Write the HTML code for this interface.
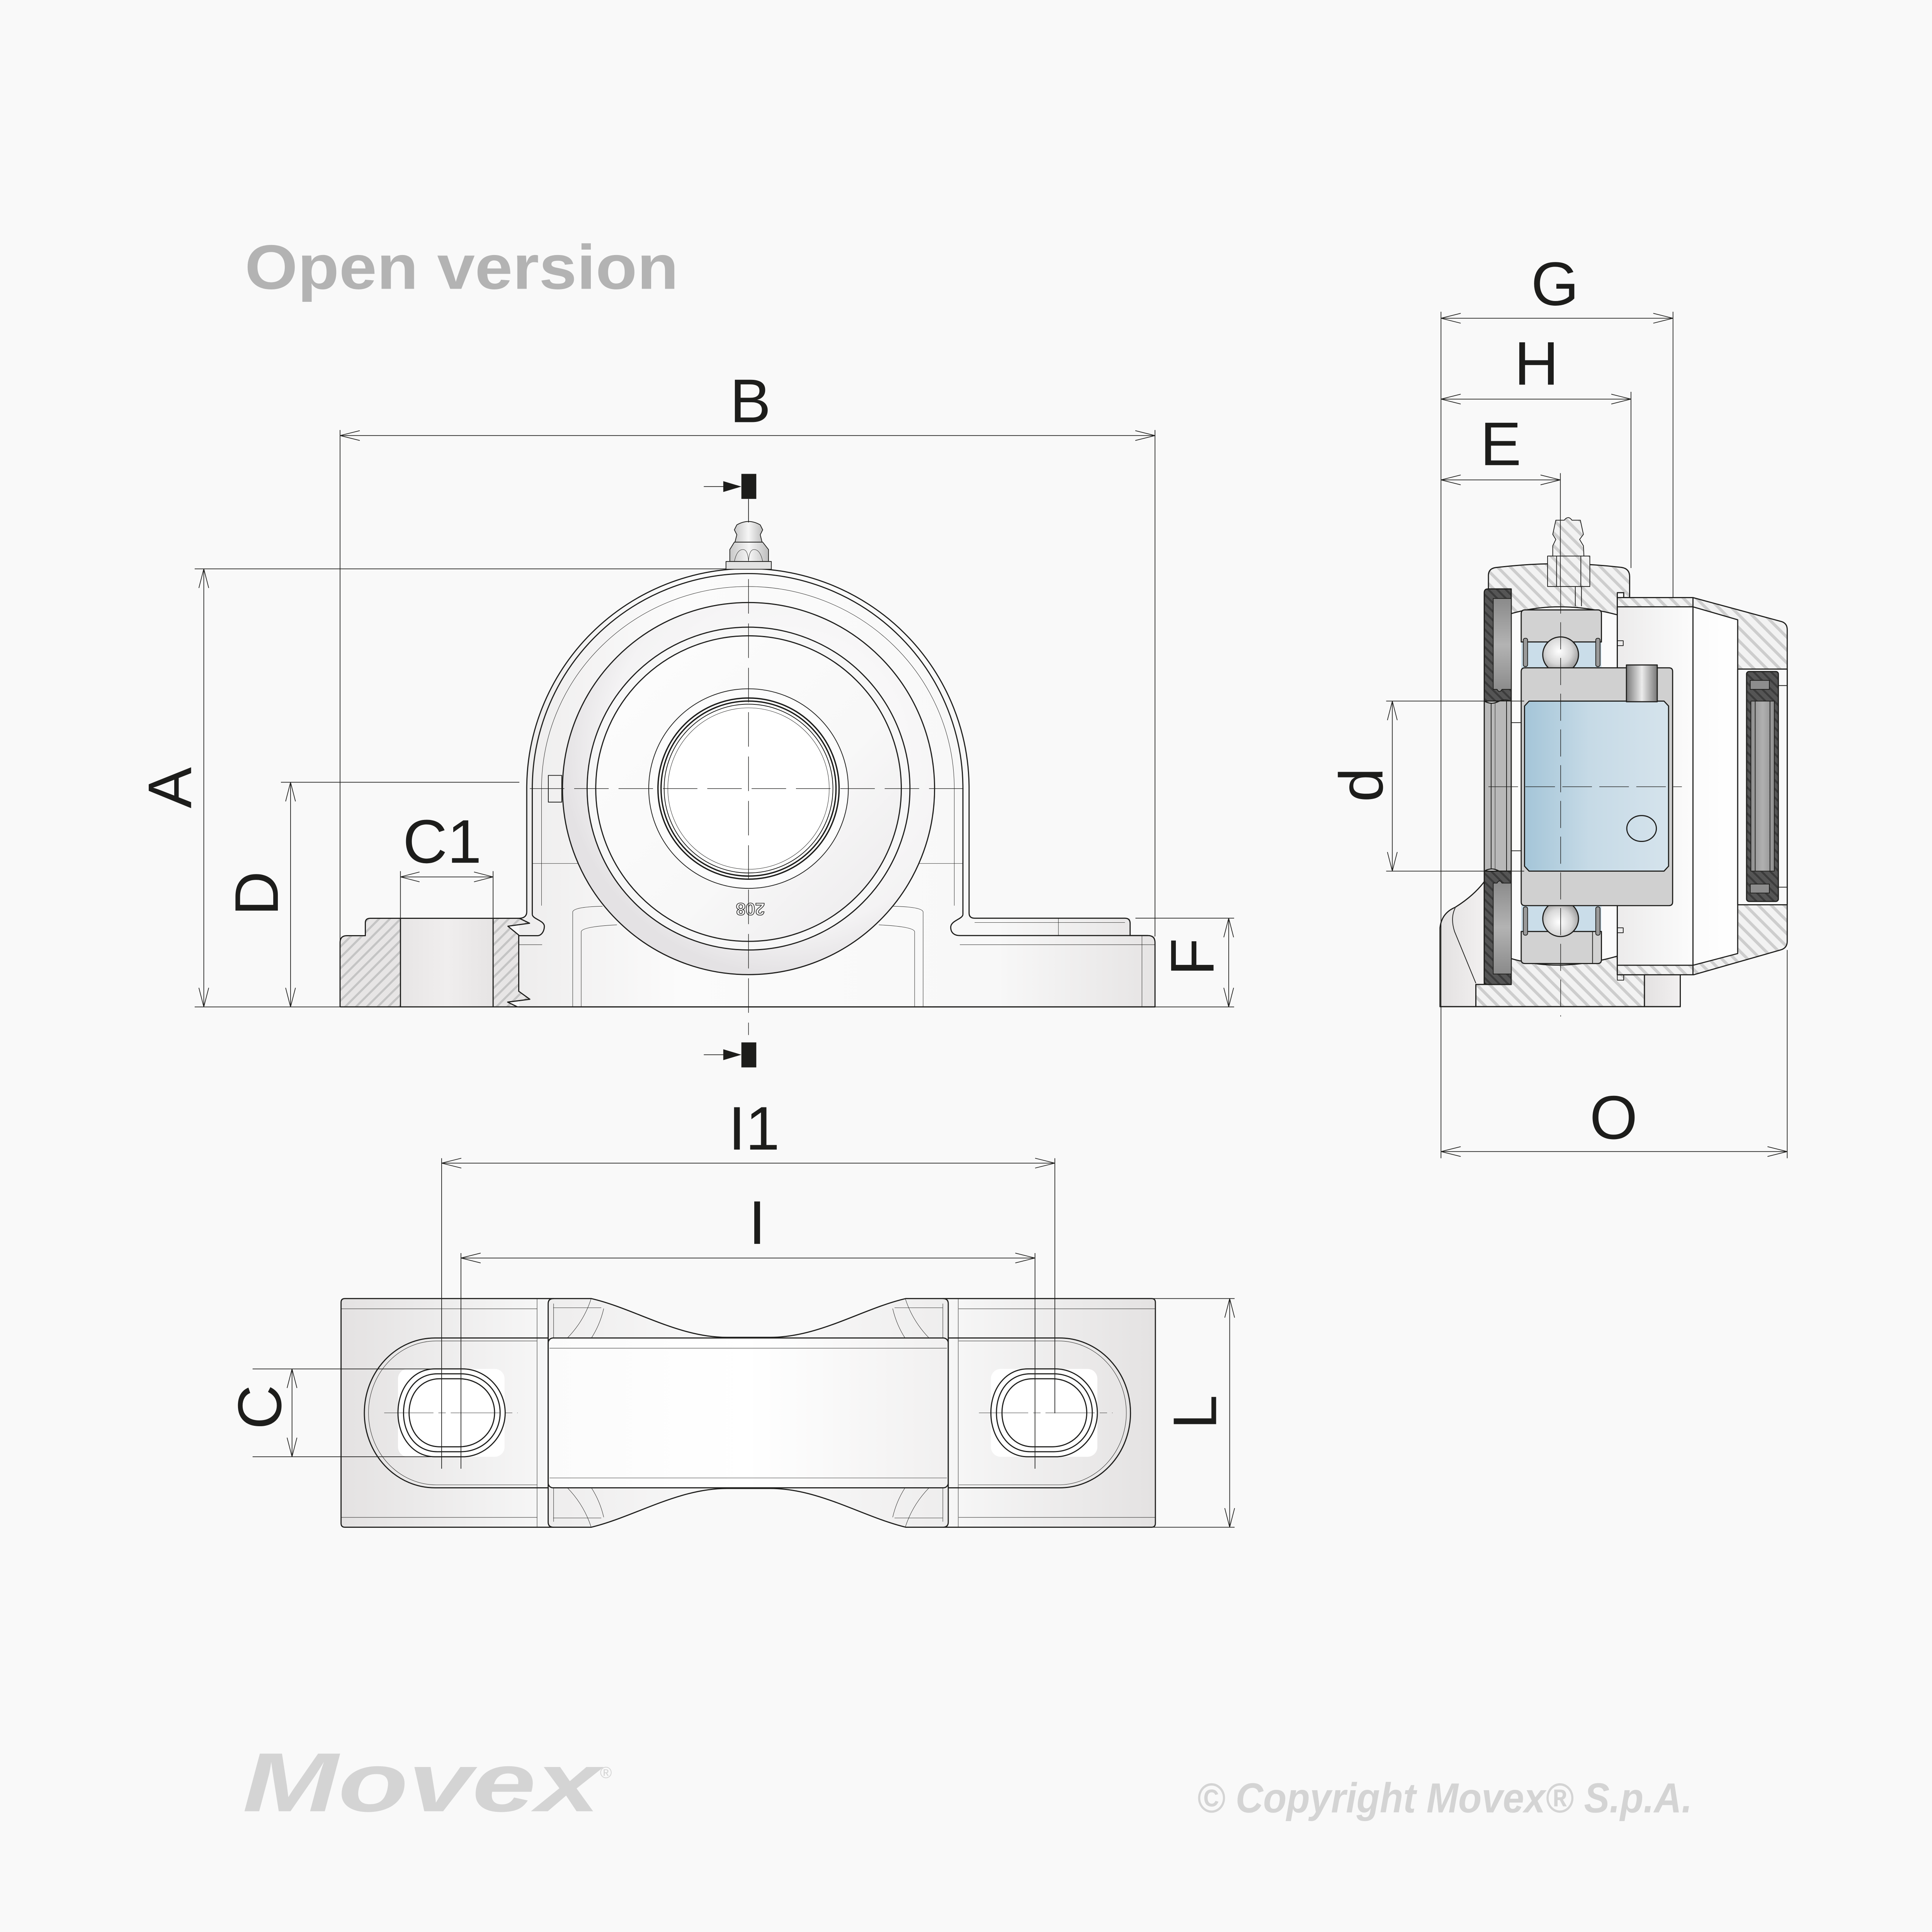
<!DOCTYPE html>
<html><head><meta charset="utf-8"><style>
html,body{margin:0;padding:0;background:#f9f9f9;width:100%;height:100%;overflow:hidden;}
svg{display:block;width:100vw;height:100vh;}
text{font-family:"Liberation Sans",Arial,sans-serif;}
.k{stroke:#1d1d1b;stroke-width:0.9;stroke-linejoin:round;}
.m{stroke-width:0.6;}
.t{stroke:#1d1d1b;stroke-width:0.3;}
.d{stroke:#1d1d1b;stroke-width:0.55;}
.c{stroke:#1d1d1b;stroke-width:0.45;stroke-dasharray:28 8;}
.k:not([fill]),.t:not([fill]),.d:not([fill]),.c:not([fill]){fill:none;}
.lbl{font-size:50px;fill:#1d1d1b;}
</style></head><body>
<svg xmlns="http://www.w3.org/2000/svg" viewBox="0 0 1568 1568" preserveAspectRatio="none">
<defs>
 <pattern id="hF" patternUnits="userSpaceOnUse" width="6.2" height="6.2" patternTransform="rotate(45)">
  <rect width="6.2" height="6.2" fill="#e7e5e5"/><rect width="1.7" height="6.2" fill="#c4c4c4"/>
 </pattern>
 <pattern id="hS" patternUnits="userSpaceOnUse" width="7.4" height="7.4" patternTransform="rotate(-45)">
  <rect width="7.4" height="7.4" fill="#f2f2f2"/><rect width="2.4" height="7.4" fill="#cdcdcd"/>
 </pattern>
 <pattern id="hD" patternUnits="userSpaceOnUse" width="5" height="5" patternTransform="rotate(-45)">
  <rect width="5" height="5" fill="#555555"/><rect width="1.6" height="5" fill="#3b3b3b"/>
 </pattern>
 <linearGradient id="gBody" x1="0" y1="0" x2="1" y2="0">
  <stop offset="0" stop-color="#eeeded"/><stop offset="0.25" stop-color="#fbfbfb"/><stop offset="0.75" stop-color="#f8f8f8"/><stop offset="1" stop-color="#e6e4e4"/>
 </linearGradient>
 <radialGradient id="gRing" cx="0.6" cy="0.4" r="0.6">
  <stop offset="0" stop-color="#ffffff"/><stop offset="0.8" stop-color="#f4f3f4"/><stop offset="1" stop-color="#e4e2e4"/>
 </radialGradient>
 <linearGradient id="gRing2" x1="0" y1="0" x2="1" y2="1">
  <stop offset="0" stop-color="#fdfdfd"/><stop offset="0.6" stop-color="#f8f8f8"/><stop offset="1" stop-color="#ebe9eb"/>
 </linearGradient>
 <linearGradient id="gHole" x1="0" y1="0" x2="1" y2="0">
  <stop offset="0" stop-color="#e7e5e5"/><stop offset="0.5" stop-color="#f0eeee"/><stop offset="1" stop-color="#e6e4e4"/>
 </linearGradient>
 <linearGradient id="gBlue" x1="0" y1="0" x2="1" y2="0">
  <stop offset="0" stop-color="#a4c5d8"/><stop offset="0.45" stop-color="#c6dae6"/><stop offset="1" stop-color="#d5e3ec"/>
 </linearGradient>
 <radialGradient id="gBall" cx="0.45" cy="0.4" r="0.6">
  <stop offset="0" stop-color="#ffffff"/><stop offset="0.6" stop-color="#d8d8d8"/><stop offset="1" stop-color="#9a9a9a"/>
 </radialGradient>
 <linearGradient id="gScrew" x1="0" y1="0" x2="1" y2="0">
  <stop offset="0" stop-color="#7a7a7a"/><stop offset="0.5" stop-color="#ececec"/><stop offset="1" stop-color="#777777"/>
 </linearGradient>
 <linearGradient id="gSealIn" x1="0" y1="0" x2="0" y2="1">
  <stop offset="0" stop-color="#8a8a8a"/><stop offset="0.5" stop-color="#b3b3b3"/><stop offset="1" stop-color="#8a8a8a"/>
 </linearGradient>
 <linearGradient id="gSeal2" x1="0" y1="0" x2="1" y2="0">
  <stop offset="0" stop-color="#8f8f8f"/><stop offset="0.5" stop-color="#b0b0b0"/><stop offset="1" stop-color="#8f8f8f"/>
 </linearGradient>
 <linearGradient id="gFoot" x1="0" y1="0" x2="1" y2="0">
  <stop offset="0" stop-color="#e3e1e1"/><stop offset="1" stop-color="#f2f0f0"/>
 </linearGradient>
 <linearGradient id="gCover" x1="0" y1="0" x2="1" y2="0">
  <stop offset="0" stop-color="#ecebeb"/><stop offset="0.6" stop-color="#fbfbfb"/><stop offset="1" stop-color="#ffffff"/>
 </linearGradient>
 <linearGradient id="gBlkL" x1="0" y1="0" x2="1" y2="0">
  <stop offset="0" stop-color="#e4e2e2"/><stop offset="1" stop-color="#f7f7f7"/>
 </linearGradient>
 <linearGradient id="gBlkR" x1="0" y1="0" x2="1" y2="0">
  <stop offset="0" stop-color="#f7f7f7"/><stop offset="1" stop-color="#e4e2e2"/>
 </linearGradient>
 <linearGradient id="gCtr" x1="0" y1="0" x2="1" y2="0">
  <stop offset="0" stop-color="#eeeded"/><stop offset="0.5" stop-color="#fafafa"/><stop offset="1" stop-color="#eeeded"/>
 </linearGradient>
 <linearGradient id="gWh" x1="0" y1="0" x2="1" y2="0">
  <stop offset="0" stop-color="#fbfbfb"/><stop offset="0.5" stop-color="#ffffff"/><stop offset="1" stop-color="#f1f0f0"/>
 </linearGradient>
 <linearGradient id="gNip" x1="0" y1="0" x2="1" y2="0">
  <stop offset="0" stop-color="#c8c8c8"/><stop offset="0.5" stop-color="#f6f6f6"/><stop offset="1" stop-color="#bdbdbd"/>
 </linearGradient>
</defs>

<rect x="0" y="0" width="1568" height="1568" fill="#f9f9f9"/>

<!-- ============ TITLE / LOGOS ============ -->
<text x="198.7" y="234.4" font-size="51" font-weight="bold" fill="#b3b3b3" textLength="352" lengthAdjust="spacingAndGlyphs">Open version</text>
<text x="196.8" y="1470" font-size="68" font-weight="bold" font-style="italic" fill="#d4d4d4" textLength="290" lengthAdjust="spacingAndGlyphs">Movex</text>
<text x="487" y="1443" font-size="13" fill="#d4d4d4">®</text>
<text x="971.4" y="1471" font-size="34" font-weight="bold" font-style="italic" fill="#d4d4d4" textLength="402" lengthAdjust="spacingAndGlyphs">© Copyright Movex® S.p.A.</text>

<!-- ============ FRONT VIEW ============ -->
<path d="M421.5,745 H427.5 V640 A179.5 178.5 0 0 1 786.5,640 V745.2 H917.2 V759.3 H937.4 V817.2 H421.5 Z" fill="url(#gBody)"/>
<path class="t" d="M439.5,735 V640 A167.5 164 0 0 1 774.5,640 V735"/>
<path class="t" d="M432,700.8 H470 M744,700.8 H781.5"/>
<path class="t" d="M464.8,817 V740 Q466,736 489,735.5 M471.7,817 V756 Q473,752 500.7,750.6 M749.2,817 V740 Q748,736 725,735.5 M742.3,817 V756 Q741,752 713.3,750.6"/>
<circle cx="607.5" cy="640" r="151" fill="url(#gRing)" class="k"/>
<circle cx="607.5" cy="640" r="131" fill="#f7f7f7" class="k"/>
<circle cx="607.5" cy="640" r="124" fill="url(#gRing2)" class="k"/>
<circle cx="607.5" cy="640" r="81" fill="#fcfcfc" class="k m"/>
<circle cx="607.5" cy="640" r="73.5" fill="#ffffff" class="k" style="stroke-width:1.1"/>
<circle cx="607.5" cy="640" r="71" class="k" style="stroke-width:1.1"/>
<circle cx="607.5" cy="640" r="68.5" class="k m"/>
<circle cx="607.5" cy="640" r="65.5" fill="#ffffff" class="t"/>
<rect x="445" y="629.3" width="10.9" height="21.7" class="k m"/>
<text transform="translate(609,733) rotate(180)" font-size="14" font-weight="bold" text-anchor="middle" fill="none" stroke="#1d1d1b" stroke-width="0.5">208</text>
<path class="k" d="M421.5,745.3 Q427.5,745 427.5,740 V640 A179.5 178.5 0 0 1 786.5,640 V741 Q786.5,745.2 791,745.2 H913 Q917.2,745.2 917.2,749.5 V759.3 H931.6 Q937.4,759.3 937.4,765 V817.2 H421"/>
<path class="k" d="M432,742 V640 A174.75 174.5 0 0 1 781.5,640 V742"/>
<path class="k" d="M432,742 C432,746 442,747 441.8,752 C441.6,756.5 439,759.4 436.2,759.4 H421"/>
<path class="k" d="M781.5,742 C781.5,746 771.6,747 771.6,752.6 C771.6,757 774.5,759.3 779,759.3 H931.6"/>
<path class="t" d="M791,748.7 H913 M859,745.2 V759.3 M779,766.7 H937.4 M926.8,759.3 V817.2 M421,766.7 H440"/>
<path d="M276,817.2 V765 Q276,759.4 281.5,759.4 H296.5 V749 Q296.5,745.3 300.5,745.3 H325 V817.2 Z" fill="url(#hF)"/>
<rect x="325" y="745.3" width="75.2" height="71.9" fill="url(#gHole)"/>
<path d="M400.2,745.3 H421.5 L429.8,749.3 L412.2,751.7 L421,758.9 V804.5 L430,811 L412,813.3 L420,817.2 H400.2 Z" fill="url(#hF)"/>
<path class="k" d="M276,817.2 V765 Q276,759.4 281.5,759.4 H296.5 V749 Q296.5,745.3 300.5,745.3 H421.5 L429.8,749.3 L412.2,751.7 L421,758.9 V804.5 L430,811 L412,813.3 L420,817.2"/>
<path class="k" d="M325,745.3 V817.2 M400.2,745.3 V817.2 M276,817.2 H937.4"/>
<path class="c" d="M607.5,470 V840"/>
<path class="c" d="M430,640 H786"/>
<path class="k m" d="M596.5,440 L598,434 L596,430 L598,426 Q607.5,420.5 617,426 L619,430 L617,434 L618.5,440 Z" fill="url(#gNip)"/>
<path class="k m" d="M592.3,455.7 V446 L596,440 H619 L623.7,446 V455.7 Z" fill="url(#gNip)"/>
<path class="t" d="M596,455.7 Q598,446 603,446 Q607,446 607.5,455.7 M607.5,455.7 Q608,446 612,446 Q617,446 619,455.7"/>
<rect x="589.2" y="455.7" width="36.8" height="6.3" fill="#e2e2e2" class="k m"/>
<path class="d" d="M607.5,405 V424"/>
<path class="d" d="M571.2,394.9 H588"/>
<polygon points="587,390.5 601.7,394.9 587,399.3" fill="#1d1d1b"/>
<rect x="601.7" y="384.6" width="12.1" height="20.3" fill="#1d1d1b"/>
<path class="d" d="M571.2,856 H588"/>
<polygon points="587,851.6 601.7,856 587,860.4" fill="#1d1d1b"/>
<rect x="601.7" y="846" width="12.1" height="20.3" fill="#1d1d1b"/>

<path class="d" d="M158,461.7 H589 M158,817.2 H276 M228,634.9 H421.5 M276,349 V817.2 M937.4,349 V760 M325,707 V745.3 M400.2,707 V745.3 M921.5,745.2 H1001.6 M937.4,817.2 H1001.6"/>
<path class="d" d="M276,353.5 H937.4 M292,349.5 L276,353.5 L292,357.5 M921.4,349.5 L937.4,353.5 L921.4,357.5"/>
<path class="d" d="M165.4,461.7 V817.2 M161.4,477.2 L165.4,461.7 L169.4,477.2 M161.4,801.7 L165.4,817.2 L169.4,801.7"/>
<path class="d" d="M235.8,634.9 V817.2 M231.8,650.4 L235.8,634.9 L239.8,650.4 M231.8,801.7 L235.8,817.2 L239.8,801.7"/>
<path class="d" d="M325,711.7 H400.2 M340.5,707.7 L325,711.7 L340.5,715.7 M384.7,707.7 L400.2,711.7 L384.7,715.7"/>
<path class="d" d="M997.2,745.2 V817.2 M993.2,760.7 L997.2,745.2 L1001.2,760.7 M993.2,801.7 L997.2,817.2 L1001.2,801.7"/>
<text class="lbl" x="609" y="342.6" text-anchor="middle">B</text>
<text class="lbl" x="358.9" y="700.2" text-anchor="middle">C1</text>
<text class="lbl" transform="translate(155.1,639.3) rotate(-90)" text-anchor="middle">A</text>
<text class="lbl" transform="translate(225.5,725.1) rotate(-90)" text-anchor="middle">D</text>
<text class="lbl" transform="translate(984.9,776.6) rotate(-90)" text-anchor="middle">F</text>

<!-- ============ BOTTOM VIEW ============ -->
<path d="M280,1053.9 H444.9 V1239.5 H280 Q276.8,1239.5 276.8,1236.3 V1057 Q276.8,1053.9 280,1053.9 Z" fill="url(#gBlkL)"/>
<path d="M769.6,1053.9 H934.5 Q937.7,1053.9 937.7,1057 V1236.3 Q937.7,1239.5 934.5,1239.5 H769.6 Z" fill="url(#gBlkR)"/>
<path d="M444.9,1053.9 H479.8 C515,1062 550,1085.4 590,1085.4 H625 C665,1085.4 700,1062 735.2,1053.9 H769.6 V1239.5 H735.2 C700,1231 665,1208 625,1208 H590 C550,1208 515,1231 479.8,1239.5 H444.9 Z" fill="url(#gCtr)"/>
<path class="t" d="M277,1062.2 H436 M277,1231.5 H436 M778,1062.2 H937.7 M778,1231.5 H937.7 M435.9,1053.9 V1239.5 M777.7,1053.9 V1239.5 M449.3,1058 V1085.9 M449.3,1207.5 V1235 M765.2,1058 V1085.9 M765.2,1207.5 V1235 M449,1061.4 H488 M449,1232 H488 M726,1061.4 H765 M726,1232 H765"/>
<path class="t" d="M479.8,1053.9 Q474,1072 460.5,1085.9 M490,1062 Q487,1075 480,1085.9 M734.7,1053.9 Q740.5,1072 754,1085.9 M724.5,1062 Q727.5,1075 734.5,1085.9"/>
<path class="t" d="M479.8,1239.5 Q474,1221.4 460.5,1207.5 M490,1231.4 Q487,1218.4 480,1207.5 M734.7,1239.5 Q740.5,1221.4 754,1207.5 M724.5,1231.4 Q727.5,1218.4 734.5,1207.5"/>
<rect x="444.9" y="1085.9" width="324.7" height="121.6" rx="4" fill="url(#gWh)" class="k"/>
<path class="t" d="M446,1094.2 H768.5 M446,1199.5 H768.5"/>
<path class="k" d="M280,1053.9 H479.8 C515,1062 550,1085.4 590,1085.4 H625 C665,1085.4 700,1062 735.2,1053.9 H934.5 Q937.7,1053.9 937.7,1057 V1236.3 Q937.7,1239.5 934.5,1239.5 H735.2 C700,1231 665,1208 625,1208 H590 C550,1208 515,1231 479.8,1239.5 H280 Q276.8,1239.5 276.8,1236.3 V1057 Q276.8,1053.9 280,1053.9 Z"/>
<path class="k" d="M449.3,1053.9 Q444.9,1053.9 444.9,1058 V1235.4 Q444.9,1239.5 449.3,1239.5 M765.2,1053.9 Q769.6,1053.9 769.6,1058 V1235.4 Q769.6,1239.5 765.2,1239.5"/>
<path class="k" d="M444.9,1085.9 H353 A57.3 60.8 0 0 0 353,1207.5 H444.9"/>
<path class="t" d="M436,1088.3 H354 A55 58.4 0 0 0 354,1205.1 H436"/>
<path class="k" d="M769.6,1085.9 H860 A57.5 60.8 0 0 1 860,1207.5 H769.6"/>
<path class="t" d="M778,1088.3 H859 A55.2 58.4 0 0 1 859,1205.1 H778"/>
<rect x="323" y="1111" width="86.5" height="71.3" rx="8" fill="#ffffff"/>
<rect x="804.2" y="1111" width="86.4" height="71.3" rx="8" fill="#ffffff"/>
<path class="k" d="M353,1111 H375.4 C394,1111 410,1127 410,1146.7 C410,1166 394,1182.3 375.4,1182.3 H353 C335,1182.3 323,1166 323,1146.7 C323,1127 335,1111 353,1111 Z"/>
<path class="k" d="M355,1115 H374 C392,1115 405.9,1129 405.9,1146.6 C405.9,1164 392,1178.2 374,1178.2 H355 C338,1178.2 327.5,1164 327.5,1146.6 C327.5,1129 338,1115 355,1115 Z"/>
<path class="k" d="M357,1119 H372.5 C389,1119 401.4,1131 401.4,1146.6 C401.4,1162 389,1174.2 372.5,1174.2 H357 C342,1174.2 332,1162 332,1146.6 C332,1131 342,1119 357,1119 Z"/>
<path class="k" d="M834.2,1111 H856.6 C875.2,1111 890.6,1127 890.6,1146.7 C890.6,1166 875.2,1182.3 856.6,1182.3 H834.2 C816.2,1182.3 804.2,1166 804.2,1146.7 C804.2,1127 816.2,1111 834.2,1111 Z"/>
<path class="k" d="M836.2,1115 H855.2 C873.2,1115 886.5,1129 886.5,1146.6 C886.5,1164 873.2,1178.2 855.2,1178.2 H836.2 C819.2,1178.2 808.7,1164 808.7,1146.6 C808.7,1129 819.2,1115 836.2,1115 Z"/>
<path class="k" d="M838.2,1119 H853.7 C870.2,1119 882,1131 882,1146.6 C882,1162 870.2,1174.2 853.7,1174.2 H838.2 C823.2,1174.2 813.2,1162 813.2,1146.6 C813.2,1131 823.2,1119 838.2,1119 Z"/>
<path class="t" d="M311.8,1146.7 H420.2 M794.5,1146.7 H903" style="stroke-dasharray:40 4 6 4"/>
<path class="d" d="M358.4,940 V1192 M856.1,940 V1147 M374.1,1017 V1192 M840,1017 V1192 M931,1053.9 H1002 M931,1239.5 H1002 M205,1111 H372 M205,1182.3 H372"/>
<path class="d" d="M358.4,944 H856.1 M374.4,940 L358.4,944 L374.4,948 M840.1,940 L856.1,944 L840.1,948"/>
<path class="d" d="M374.1,1021 H840 M390.1,1017 L374.1,1021 L390.1,1025 M824,1017 L840,1021 L824,1025"/>
<path class="d" d="M998,1053.9 V1239.5 M994,1069.4 L998,1053.9 L1002,1069.4 M994,1224 L998,1239.5 L1002,1224"/>
<path class="d" d="M237,1111 V1182.3 M233,1126.5 L237,1111 L241,1126.5 M233,1166.8 L237,1182.3 L241,1166.8"/>
<text class="lbl" x="612" y="933" text-anchor="middle">I1</text>
<text class="lbl" x="614.5" y="1009.5" text-anchor="middle">I</text>
<text class="lbl" transform="translate(228,1142) rotate(-90)" text-anchor="middle">C</text>
<text class="lbl" transform="translate(987,1146) rotate(-90)" text-anchor="middle">L</text>

<!-- ============ SIDE VIEW ============ -->
<rect x="1226.5" y="490" width="86.1" height="295" fill="#fbfbfb"/>
<path d="M1168.7,817 V753 Q1170,741 1181,736.4 Q1196,727 1204.6,715.6 V799 H1197.8 V817 Z" fill="url(#gFoot)" class="k"/>
<path class="k m" d="M1181,737 Q1177,745 1180.5,756 L1197.8,798"/>
<rect x="1334.6" y="791.1" width="29.1" height="25.9" fill="url(#gFoot)" class="k"/>
<path d="M1208,478 V467 Q1208,461 1215,460.5 Q1266,454.5 1316,460.5 Q1322.6,461.5 1322.6,468 V485 H1317.8 V481 H1312.6 V499 Q1266,486.5 1226.5,498 V478 Z" fill="url(#hS)" class="k"/>
<path class="k m" d="M1278.5,476 V492 M1283.5,476 V492"/>
<path d="M1262.7,422.2 H1269.5 Q1272.7,418 1275.8,422.2 H1282.6 L1285.1,433.7 L1282,437.8 L1285.1,443 L1285.5,451.3 H1290.3 V476 H1256 V451.3 H1260.2 L1260.2,443 L1262.7,437.8 L1260.2,433.7 Z" fill="url(#hS)" class="k m"/>
<path class="k m" d="M1256,451.3 H1290.3 M1263.3,451.3 V476 M1283,451.3 V476"/>
<path d="M1197.8,799 H1226.5 V778 Q1266,789.4 1312.6,776 V791.1 H1334.6 V817 H1197.8 Z" fill="url(#hS)" class="k"/>
<path class="k" d="M1168.7,817 H1363.7"/>
<!-- left seal -->
<path d="M1204.6,569 V481 Q1204.6,478 1207.6,478 H1226.5 V569 Z" fill="url(#hD)" class="k"/>
<path d="M1211.9,485.7 H1226.5 V559.5 H1219 Q1217,563 1215,559.5 H1211.9 Z" fill="url(#gSealIn)" class="k m"/>
<path d="M1204.6,569 Q1210,572 1215,569.8 Q1220,567 1226.5,569 V707 Q1220,709 1215,706.2 Q1210,704 1204.6,707 Z" fill="#b8b8b8" class="k"/>
<path class="k m" d="M1210.2,571 V705 M1222.7,569 V707"/>
<path class="t" d="M1213.4,570 V706"/>
<path d="M1204.6,707 V796 Q1204.6,799 1207.6,799 H1226.5 V707 Z" fill="url(#hD)" class="k"/>
<path d="M1211.9,790.5 H1226.5 V716.7 H1219 Q1217,713.2 1215,716.7 H1211.9 Z" fill="url(#gSealIn)" class="k m"/>
<path class="k m" d="M1226.5,586.5 H1234.6 M1226.5,690.5 H1234.6"/>
<!-- cover (drawn before the inner ring so the ring overlaps it) -->
<path d="M1312.6,485 H1374 L1446,504.5 Q1450.5,506 1450.5,511 V764 Q1450.5,769.5 1445,771 L1374.6,791.1 H1312.6 Z" fill="url(#hS)" class="k"/>
<path d="M1312.6,492.5 H1374 L1410.3,503 V773.9 L1374,783.4 H1312.6 Z" fill="url(#gCover)" class="k"/>
<path class="k" d="M1374,485 V791.1"/>
<rect x="1410.3" y="543" width="40.2" height="191.3" fill="#f8f8f8" class="k"/>
<rect x="1417.5" y="545" width="25.8" height="186.6" rx="2" fill="url(#hD)" class="k"/>
<rect x="1421" y="569" width="19" height="138" fill="url(#gSeal2)" class="k m"/>
<path class="k m" d="M1424.5,569 V707 M1436.5,569 V707"/>
<path d="M1420.5,552.2 H1436 V559.5 H1420.5 Z" fill="#8d8d8d" class="k m"/>
<path d="M1420.5,717.5 H1436 V724.8 H1420.5 Z" fill="#8d8d8d" class="k m"/>
<path class="k m" d="M1443.3,556.4 H1450.5 M1443.3,720 H1450.5"/>
<rect x="1312.6" y="481" width="5.2" height="4" class="k m"/>
<rect x="1312.6" y="791.1" width="5.2" height="4.4" class="k m"/>
<path class="k m" d="M1312.6,520 H1317.4 V524 H1312.6 M1312.6,753 H1317.4 V757 H1312.6"/>
<!-- bearing -->
<g>
 <rect x="1234.6" y="519" width="65.1" height="23" fill="#cadde9"/>
 <path d="M1234.6,521 V498 Q1234.6,495 1237.6,495 H1296.7 Q1299.7,495 1299.7,498 V521 Z" fill="#d2d2d2" class="k"/>
 <rect x="1236.3" y="518" width="3.5" height="23" rx="1.5" fill="#9a9a9a" class="k m"/>
 <rect x="1295.1" y="518" width="3.5" height="23" rx="1.5" fill="#9a9a9a" class="k m"/>
 <circle cx="1266.6" cy="531.4" r="14.5" fill="url(#gBall)" class="k"/>
</g>
<g transform="matrix(1,0,0,-1,0,1277)">
 <rect x="1234.6" y="519" width="65.1" height="23" fill="#cadde9"/>
 <path d="M1234.6,521 V498 Q1234.6,495 1237.6,495 H1296.7 Q1299.7,495 1299.7,498 V521 Z" fill="#d2d2d2" class="k"/>
 <path class="k m" d="M1292.5,495 V521"/>
 <rect x="1236.3" y="518" width="3.5" height="23" rx="1.5" fill="#9a9a9a" class="k m"/>
 <rect x="1295.1" y="518" width="3.5" height="23" rx="1.5" fill="#9a9a9a" class="k m"/>
 <circle cx="1266.6" cy="531.4" r="14.5" fill="url(#gBall)" class="k"/>
</g>
<path d="M1234.6,545 Q1234.6,542 1237.6,542 H1354.5 Q1357.5,542 1357.5,545 V732 Q1357.5,735 1354.5,735 H1237.6 Q1234.6,735 1234.6,732 Z" fill="#d0d0d0" class="k"/>
<path d="M1241,569 H1350.5 L1354.2,573 V703 L1350.5,707 H1241 L1237.3,703 V573 Z" fill="url(#gBlue)" class="k"/>
<rect x="1320" y="539.7" width="25" height="29.8" fill="url(#gScrew)" class="k"/>
<ellipse cx="1332.3" cy="672.4" rx="12" ry="10.5" class="k"/>
<path class="c" d="M1208,638.5 H1365" style="stroke-dasharray:24 6"/>
<path class="d" d="M1266.4,384 V476"/>
<path class="c" d="M1266.6,476 V825" style="stroke-dasharray:22 7"/>
<path class="d" d="M1169.5,253 V940 M1357.8,253 V485 M1323.7,318 V461 M1450.5,771 V940 M1125,569 H1237 M1125,707 H1237"/>
<path class="d" d="M1169.5,258.3 H1357.8 M1185.5,254.3 L1169.5,258.3 L1185.5,262.3 M1341.8,254.3 L1357.8,258.3 L1341.8,262.3"/>
<path class="d" d="M1169.5,323.9 H1323.7 M1185.5,319.9 L1169.5,323.9 L1185.5,327.9 M1307.7,319.9 L1323.7,323.9 L1307.7,327.9"/>
<path class="d" d="M1169.5,389.5 H1266.3 M1185.5,385.5 L1169.5,389.5 L1185.5,393.5 M1250.3,385.5 L1266.3,389.5 L1250.3,393.5"/>
<path class="d" d="M1169.5,934.6 H1450.5 M1185.5,930.6 L1169.5,934.6 L1185.5,938.6 M1434.5,930.6 L1450.5,934.6 L1434.5,938.6"/>
<path class="d" d="M1130,569 V707 M1126,584.5 L1130,569 L1134,584.5 M1126,691.5 L1130,707 L1134,691.5"/>
<text class="lbl" x="1262" y="247.6" text-anchor="middle">G</text>
<text class="lbl" x="1247" y="312.2" text-anchor="middle">H</text>
<text class="lbl" x="1218" y="377.5" text-anchor="middle">E</text>
<text class="lbl" x="1309.6" y="924.2" text-anchor="middle">O</text>
<text class="lbl" transform="translate(1122,637) rotate(-90)" text-anchor="middle">d</text>
</svg>
</body></html>
